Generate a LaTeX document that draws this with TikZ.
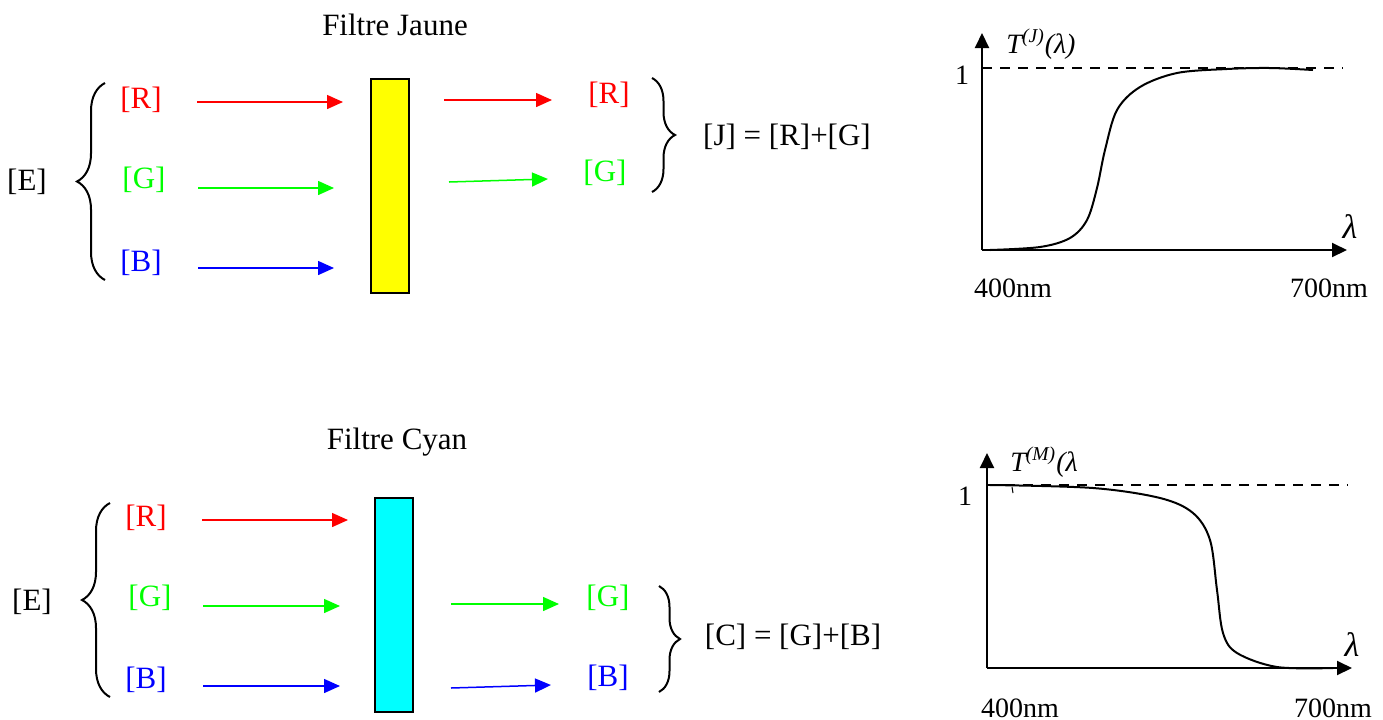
\documentclass[tikz,border=0pt]{standalone}
\usepackage{fontspec}
\setmainfont{Liberation Serif}
\usetikzlibrary{arrows.meta, decorations.pathreplacing}
\definecolor{ray red}{RGB}{255,0,0}
\definecolor{ray green}{RGB}{0,255,0}
\definecolor{ray blue}{RGB}{0,0,255}
\definecolor{jaune}{RGB}{255,255,0}
\definecolor{cyanf}{RGB}{0,255,255}

\begin{document}
\begin{tikzpicture}[
  x=0.5pt, y=-0.5pt,
  >={Triangle[length=8pt, width=7pt]},
  every node/.style={font=\fontsize{15.5}{18}\selectfont, inner sep=0pt},
  ray/.style={line width=0.75pt, ->},
  filtre/.style={draw, line width=1pt, minimum width=19pt, minimum height=107pt},
  accolade/.style={decorate, decoration={brace, amplitude=#1}, line width=1pt},
  axe/.style={line width=1pt, -{Triangle[length=7.5pt, width=7pt]}},
  graphlbl/.style={font=\fontsize{14}{16}\selectfont},
]
\useasboundingbox (0,0) rectangle (1383,719);

% ---------- Filtre jaune ----------
\node (titreJ) at (395,25) {Filtre Jaune};
\node (e1) at (27,182) {[E]};
\draw[accolade=14pt] (105,280) -- (105,83);

\node[text=ray red] (r1) at (141,100) {[R]};
\node[text=ray green] (g1) at (144,180) {[G]};
\node[text=ray blue] (b1) at (141,263) {[B]};

\node[filtre, fill=jaune] (fj) at (390,186) {};

% rayons incidents
\coordinate (r1a) at (197,102); \coordinate (r1b) at (343,102);
\coordinate (g1a) at (198,188); \coordinate (g1b) at (334,188);
\coordinate (b1a) at (198,268); \coordinate (b1b) at (334,268);
\draw[ray, ray red] (r1a) -- (r1b);
\draw[ray, ray green] (g1a) -- (g1b);
\draw[ray, ray blue] (b1a) -- (b1b);

% rayons transmis
\coordinate (r1c) at (444,100); \coordinate (r1d) at (552,100);
\coordinate (g1c) at (449,182); \coordinate (g1d) at (548,179);
\draw[ray, ray red] (r1c) -- (r1d);
\draw[ray, ray green] (g1c) -- (g1d);

\node[text=ray red] (r1o) at (609,95) {[R]};
\node[text=ray green] (g1o) at (605,173) {[G]};
\draw[accolade=11.5pt] (652,78) -- (652,192);
\node (eqJ) at (787,137) {[J] = [R]+[G]};

% courbe T(J)
\coordinate (o1) at (982,250);
\coordinate (y1) at (982,33);
\coordinate (x1) at (1347,250);
\draw[axe] (o1) -- (y1);
\draw[axe] (o1) -- (x1);
\draw[dashed, line width=0.75pt, dash pattern=on 5pt off 4pt] (982,68) -- (1343,68);
\node[graphlbl] (un1) at (962,75) {1};
\node[graphlbl] (tj) at (1041,44) {\textit{T\textsuperscript{(J)}(λ)}};
\node[font=\fontsize{17}{19}\selectfont\itshape] (l1) at (1350,227) {λ};
\node[graphlbl] (n400a) at (1013,288) {400nm};
\node[graphlbl] (n700a) at (1329,288) {700nm};
\draw[line width=1pt] plot[smooth, tension=0.55] coordinates {
  (990,250) (1040,247) (1070,238) (1087,220) (1097,188) (1105,150)
  (1117,110) (1140,87) (1177,73) (1227,69) (1270,68) (1313,70)};

% ---------- Filtre cyan ----------
\node (titreC) at (397,442) {Filtre Cyan};
\node (e2) at (32,602) {[E]};
\draw[accolade=14pt] (110,697) -- (110,503);

\node[text=ray red] (r2) at (146,518) {[R]};
\node[text=ray green] (g2) at (150,598) {[G]};
\node[text=ray blue] (b2) at (146,680) {[B]};

\node[filtre, fill=cyanf] (fc) at (394,604.5) {};

% rayons incidents
\coordinate (r2a) at (202,520); \coordinate (r2b) at (348,520);
\coordinate (g2a) at (203,606); \coordinate (g2b) at (340,606);
\coordinate (b2a) at (203,686); \coordinate (b2b) at (340,686);
\draw[ray, ray red] (r2a) -- (r2b);
\draw[ray, ray green] (g2a) -- (g2b);
\draw[ray, ray blue] (b2a) -- (b2b);

% rayons transmis
\coordinate (g2c) at (451,604); \coordinate (g2d) at (559,604);
\coordinate (b2c) at (451,688); \coordinate (b2d) at (551,685);
\draw[ray, ray green] (g2c) -- (g2d);
\draw[ray, ray blue] (b2c) -- (b2d);

\node[text=ray green] (g2o) at (608,598) {[G]};
\node[text=ray blue] (b2o) at (608,678) {[B]};
\draw[accolade=10.5pt] (659,586) -- (659,692);
\node (eqC) at (793,637) {[C] = [G]+[B]};

% courbe T(M)
\coordinate (o2) at (987,668);
\coordinate (y2) at (987,453);
\coordinate (x2) at (1352,668);
\draw[axe] (o2) -- (y2);
\draw[axe] (o2) -- (x2);
\draw[dashed, line width=0.75pt, dash pattern=on 5pt off 4pt] (987,485) -- (1348,485);
\node[graphlbl] (un2) at (965,496) {1};
\node[graphlbl] (tm) at (1044,462) {\textit{T\textsuperscript{(M)}(λ}};
\node[font=\fontsize{17}{19}\selectfont\itshape] (l2) at (1352,645) {λ};
\node[graphlbl] (n400b) at (1020,708) {400nm};
\node[graphlbl] (n700b) at (1333,708) {700nm};
\draw[line width=1pt] plot[smooth, tension=0.55] coordinates {
  (990,485) (1093,488) (1160,498) (1193,513) (1210,540) (1217,590)
  (1223,633) (1237,653) (1277,667) (1333,668)};
\draw[line width=0.5pt] (1012,487) -- (1013,493);

\end{tikzpicture}
\end{document}
